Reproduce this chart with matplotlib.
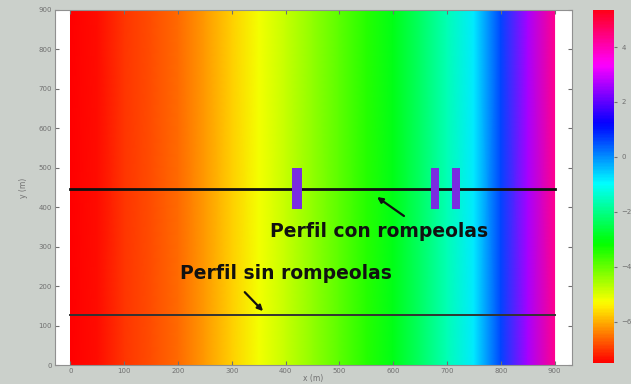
import numpy as np
import matplotlib.pyplot as plt
from matplotlib.patches import Rectangle

# cross-shore bed level (m) sampled every 50 m, uniform alongshore
x_prof = [0, 50, 100, 150, 200, 250, 300, 350, 400, 450,
          500, 550, 600, 650, 700, 750, 800, 850, 900]
z_prof = [-7.5, -7.35, -7.0, -6.8, -6.55, -6.15, -5.7, -5.2, -4.8, -4.35,
          -3.9, -3.45, -2.95, -2.3, -1.6, -0.8, 0.6, 2.6, 4.3]
y_ext = [0, 900]

# breakwaters: centre x, width, y from / to
bw_x = [421, 677, 717]
bw_w = [19, 15, 15]
bw_y = [395, 500]

# profile transects
y_with = 447
y_without = 127

labels = ["Perfil con rompeolas", "Perfil sin rompeolas"]
label_xy = [(371, 338), (203, 233)]
arrow_tail = [(620, 378), (324, 185)]
arrow_head = [(570, 426), (358, 137)]

vmin, vmax = -7.5, 5.35
bg = "#cbd0cb"
tick_col = "#707070"

fig = plt.figure(figsize=(6.31, 3.84), dpi=100, facecolor=bg)
ax = fig.add_axes([0.087, 0.049, 0.82, 0.925])
cax = fig.add_axes([0.939, 0.055, 0.034, 0.919])

X, Y = np.meshgrid(x_prof, y_ext)
Z = np.vstack([z_prof, z_prof])
mesh = ax.pcolormesh(X, Y, Z, cmap="hsv", vmin=vmin, vmax=vmax,
                     shading="gouraud")

ax.plot([x_prof[0], x_prof[-1]], [y_with, y_with], color="#111111", lw=2.0)
ax.plot([x_prof[0], x_prof[-1]], [y_without, y_without], color="#333333", lw=1.4)

for xc, w in zip(bw_x, bw_w):
    ax.add_patch(Rectangle((xc - w / 2, bw_y[0]), w, bw_y[1] - bw_y[0],
                           facecolor="#7a2ce0", edgecolor="none", zorder=3))

for txt, (tx, ty) in zip(labels, label_xy):
    ax.text(tx, ty, txt, fontsize=13.5, fontweight="bold", color="#111111",
            va="center", ha="left")

for (x0, y0), (x1, y1) in zip(arrow_tail, arrow_head):
    ax.annotate("", xy=(x1, y1), xytext=(x0, y0),
                arrowprops=dict(arrowstyle="-|>", color="#111111", lw=1.6,
                                mutation_scale=8, shrinkA=0, shrinkB=0))

ax.set_xlim(-29, 933)
ax.set_ylim(0, 900)
ax.set_xticks(np.arange(0, 1000, 100))
ax.set_yticks(np.arange(0, 1000, 100))
ax.tick_params(axis="both", labelsize=5, colors=tick_col, length=3,
               direction="in", top=True, right=True, pad=2)
for s in ax.spines.values():
    s.set_color("#909090")
    s.set_linewidth(0.8)
ax.set_xlabel("x (m)", fontsize=5.5, color=tick_col, labelpad=0)
ax.set_ylabel("y (m)", fontsize=5.5, color=tick_col, labelpad=8)

cb = fig.colorbar(mesh, cax=cax, ticks=[-6, -4, -2, 0, 2, 4])
cb.outline.set_visible(False)
cax.tick_params(labelsize=5, colors=tick_col, length=2)

fig.savefig("out.png", dpi=100, facecolor=bg)
